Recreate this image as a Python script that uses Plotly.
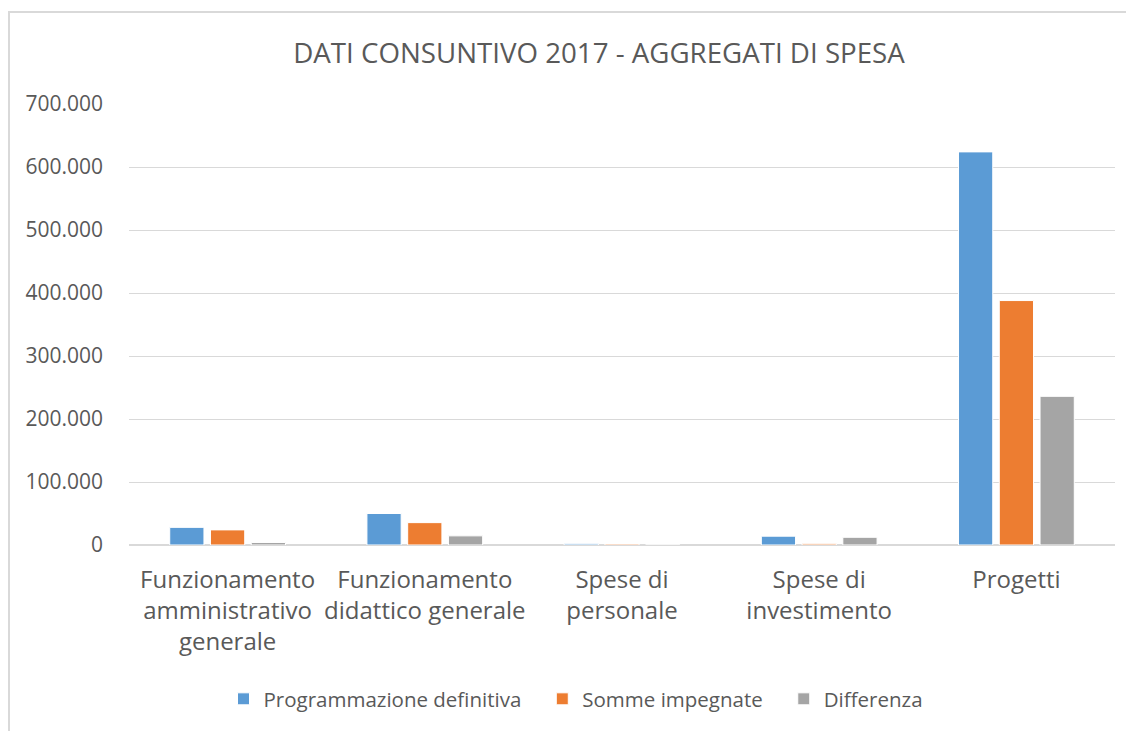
import plotly.graph_objects as go

categories = [
    "Funzionamento<br>amministrativo<br>generale",
    "Funzionamento<br>didattico generale",
    "Spese di<br>personale",
    "Spese di<br>investimento",
    "Progetti",
]
programmazione = [28000, 50000, 1800, 14000, 624000]
somme_impegnate = [24000, 35500, 1600, 1800, 388000]
differenza = [4000, 14500, 200, 12200, 236000]

series_names = ["Programmazione definitiva", "Somme impegnate", "Differenza"]
colors = ["#5B9BD5", "#ED7D31", "#A5A5A5"]

FONT = "Open Sans"
TXT = "#595959"

fig = go.Figure()
for i, (name, vals, col) in enumerate(zip(series_names, [programmazione, somme_impegnate, differenza], colors)):
    label = name + ("\u00a0" * 3 if i < 2 else "")
    fig.add_trace(go.Bar(
        x=categories, y=vals, name=label,
        marker=dict(color=col, line=dict(color="white", width=1)),
    ))

# page has 8px body offset; coordinates below are reference pixels minus 8
OFF = 8
W, H = 1134 - OFF, 731 - OFF
L, R, T, B = 129 - OFF, 1115 - OFF, 104 - OFF, 545 - OFF
pw, ph = R - L, B - T
bx0, by0 = 9 - OFF, 12 - OFF
fig.add_shape(type="rect", xref="paper", yref="paper",
              x0=(bx0 - L) / pw, x1=(W + 10 - L) / pw,
              y0=(B - (H + 10)) / ph, y1=(B - by0) / ph,
              line=dict(color="#d9d9d9", width=2), fillcolor="rgba(0,0,0,0)", layer="below")

fig.update_layout(
    width=W, height=H,
    margin=dict(l=L, r=W - R, t=T, b=H - B),
    paper_bgcolor="white", plot_bgcolor="white",
    separators=",.",
    barmode="group", bargap=0.38, bargroupgap=0.16,
    title=dict(text="DATI CONSUNTIVO 2017 - AGGREGATI DI SPESA",
               x=(599 - OFF) / W, xanchor="center", y=1 - (53 - OFF) / H, yanchor="middle",
               font=dict(family=FONT, size=27.7, color=TXT)),
    font=dict(family=FONT, color=TXT),
    xaxis=dict(tickfont=dict(size=24, color=TXT), showline=False, ticks="",
               ticklabelstandoff=18),
    yaxis=dict(range=[0, 700000], dtick=100000, tickformat=",d",
               tickfont=dict(size=21, color=TXT),
               showgrid=True, gridcolor="#d9d9d9", gridwidth=1.3,
               zeroline=True, zerolinecolor="#d9d9d9", zerolinewidth=1.5,
               ticks="", ticklabelstandoff=25),
    legend=dict(orientation="h", x=(576 - OFF - L) / pw, xanchor="center",
                y=(B - (699 - OFF)) / ph, yanchor="middle",
                font=dict(size=20.5, color=TXT), itemwidth=30, traceorder="normal"),
)

fig.write_html("out.html")
